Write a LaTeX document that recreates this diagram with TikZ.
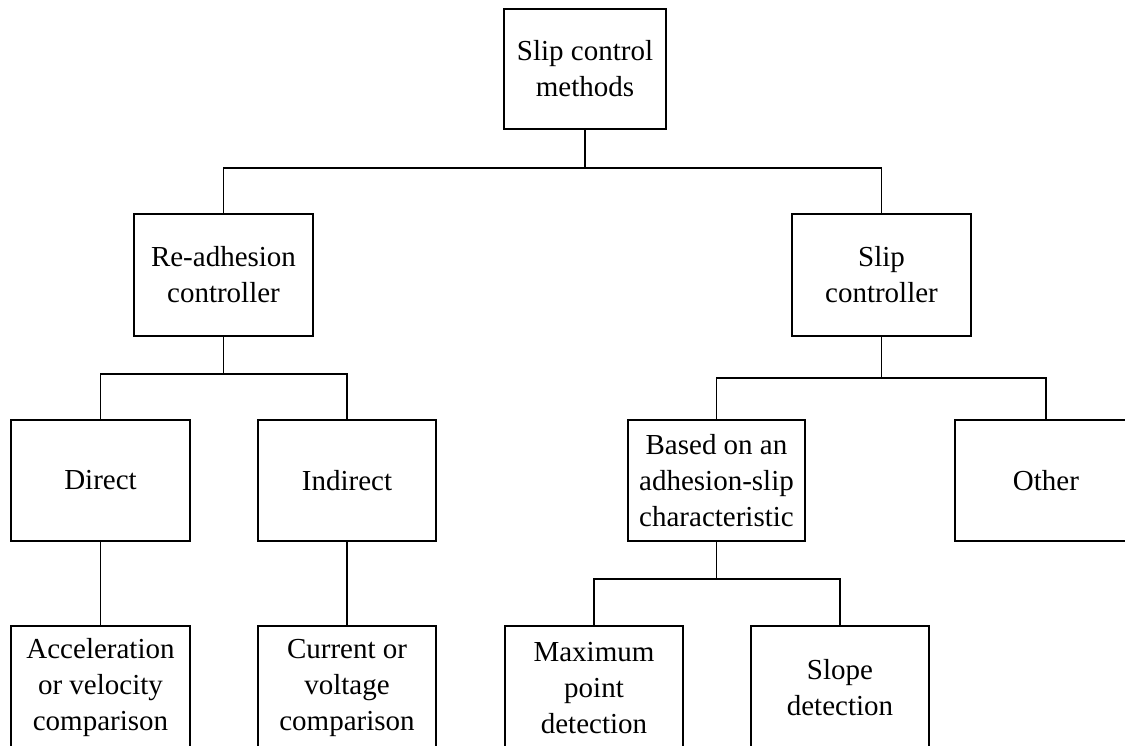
\documentclass[tikz,border=0pt]{standalone}
\usepackage{fontspec}
\setmainfont{Liberation Serif}
\begin{document}
\begin{tikzpicture}[x=1pt,y=-1pt,
  box/.style={draw, line width=1.8pt, rectangle, inner sep=0pt, outer sep=0pt,
    minimum height=121pt, align=center,
    font=\fontsize{29}{36}\selectfont},
  link/.style={line width=1.8pt}]
\useasboundingbox (0,0) rectangle (1125,745);
\clip (0,0) rectangle (1125,745);

% level 0
\node[box, minimum width=162pt, minimum height=120pt] (root) at (585,69) {Slip control\\methods};

% level 1
\node[box, minimum width=179pt, minimum height=122pt] (ra) at (223.5,275) {Re-adhesion\\controller};
\node[box, minimum width=179pt, minimum height=122pt] (sc) at (881.5,275) {Slip\\controller};

% level 2
\node[box, minimum width=179pt] (direct)   at (100.5,480.5) {Direct};
\node[box, minimum width=178pt] (indirect) at (347,480.5)   {Indirect};
\node[box, minimum width=177pt] (based)    at (716.5,480.5) {Based on an\\adhesion-slip\\characteristic};
\node[box, minimum width=182pt] (other)    at (1046,480.5)  {Other};

% level 3 (boxes run past the lower edge)
\node[box, minimum width=179pt, minimum height=124pt] (accel)   at (100.5,688) {Acceleration\\or velocity\\comparison};
\node[box, minimum width=178pt, minimum height=124pt] (current) at (347,688)   {Current or\\voltage\\comparison};
\node[box, minimum width=178pt, minimum height=124pt] (maxpt)   at (594,688)   {Maximum\\point\\detection};
\node[box, minimum width=178pt, minimum height=124pt] (slope)   at (840,688)   {Slope\\detection};

% connectors
\draw[link] (root.south) -- (root.south |- 0,168);
\draw[link] (ra.north) |- (sc.north |- 0,168) -- (sc.north);

\draw[link] (ra.south) -- (ra.south |- 0,374);
\draw[link] (direct.north) |- (indirect.north |- 0,374) -- (indirect.north);

\draw[link] (sc.south) -- (sc.south |- 0,378);
\draw[link] (based.north) |- (other.north |- 0,378) -- (other.north);

\draw[link] (direct.south) -- (accel.north);
\draw[link] (indirect.south) -- (current.north);

\draw[link] (based.south) -- (based.south |- 0,579);
\draw[link] (maxpt.north) |- (slope.north |- 0,579) -- (slope.north);
\end{tikzpicture}
\end{document}
